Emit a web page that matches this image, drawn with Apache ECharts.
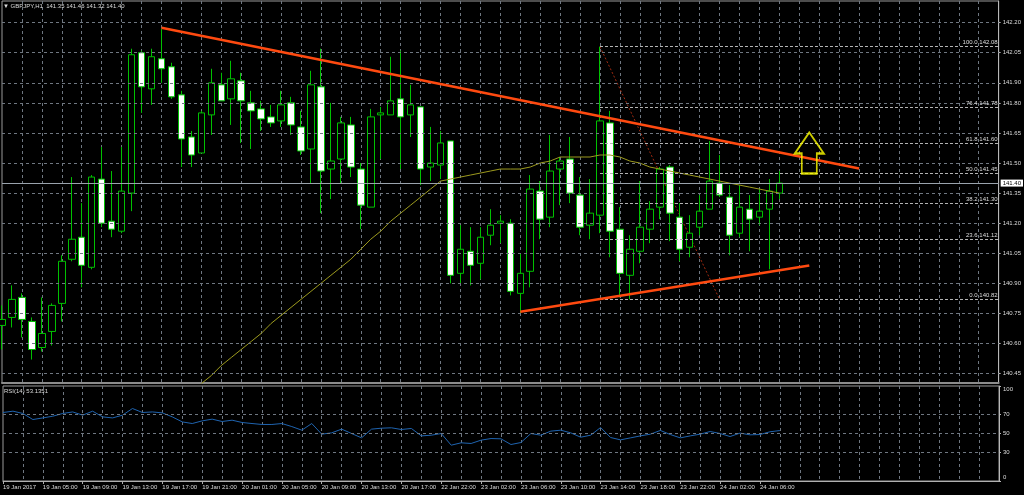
<!DOCTYPE html>
<html>
<head>
<meta charset="utf-8">
<script src="https://cdn.jsdelivr.net/npm/echarts@6/dist/echarts.min.js"></script>
<style>
html,body{margin:0;padding:0;background:#000;}
#c{width:1024px;height:495px;}
</style>
</head>
<body>
<div id="c"></div>
<script>
// ---------- DATA ----------
const symbolName = 'GBPJPY,H1';
const tickLabels = ['19 Jan 2017','19 Jan 05:00','19 Jan 09:00','19 Jan 13:00','19 Jan 17:00','19 Jan 21:00','20 Jan 01:00','20 Jan 05:00','20 Jan 09:00','20 Jan 13:00','20 Jan 17:00','22 Jan 22:00','23 Jan 02:00','23 Jan 06:00','23 Jan 10:00','23 Jan 14:00','23 Jan 18:00','23 Jan 22:00','24 Jan 02:00','24 Jan 06:00'];
const opens  = [140.69,140.73,140.83,140.71,140.58,140.66,140.80,141.02,141.13,140.98,141.42,141.21,141.16,141.35,142.05,141.87,142.02,141.98,141.84,141.63,141.55,141.74,141.89,141.82,141.91,141.80,141.77,141.73,141.71,141.80,141.68,141.57,141.88,141.47,141.52,141.69,141.47,141.28,141.74,141.74,141.82,141.74,141.78,141.48,141.49,141.61,140.95,141.06,141.00,141.14,141.20,141.20,140.85,140.96,141.36,141.23,141.47,141.52,141.34,141.19,141.24,141.70,141.17,140.94,141.06,141.17,141.28,141.48,141.23,141.08,141.18,141.27,141.40,141.33,141.15,141.27,141.23,141.27,141.35];
const highs  = [140.79,140.89,140.85,140.73,140.83,140.80,141.04,141.43,141.30,141.44,141.58,141.46,141.58,142.07,142.06,142.07,142.17,142.00,141.86,141.66,141.76,141.97,141.95,142.01,141.95,141.86,141.81,141.79,141.86,141.83,141.76,141.96,142.07,141.80,141.73,141.73,141.50,141.77,141.78,142.03,142.06,141.89,141.78,141.68,141.66,141.61,141.19,141.18,141.18,141.27,141.24,141.22,141.05,141.44,141.41,141.64,141.53,141.63,141.43,141.42,142.08,141.76,141.28,141.14,141.41,141.31,141.48,141.49,141.30,141.24,141.34,141.61,141.54,141.39,141.39,141.34,141.37,141.42,141.46];
const lows   = [140.57,140.68,140.63,140.52,140.56,140.59,140.71,141.01,140.88,140.97,141.18,141.13,141.15,141.26,141.75,141.79,141.90,141.82,141.48,141.48,141.55,141.64,141.81,141.69,141.60,141.57,141.66,141.68,141.68,141.64,141.54,141.40,141.25,141.32,141.40,141.43,141.17,141.28,141.52,141.74,141.47,141.63,141.39,141.41,141.42,140.90,140.90,140.89,140.92,141.09,141.10,140.84,140.75,140.88,141.12,141.18,141.29,141.30,141.14,141.12,141.15,141.03,140.83,140.82,141.00,141.10,141.22,141.11,141.01,141.03,141.14,141.27,141.33,141.04,141.13,141.06,141.19,140.97,141.32];
const closes = [140.72,140.82,140.72,140.57,140.65,140.79,141.01,141.12,140.99,141.43,141.20,141.17,141.36,142.04,141.88,142.03,141.97,141.83,141.62,141.54,141.75,141.90,141.81,141.92,141.81,141.76,141.72,141.70,141.79,141.69,141.56,141.89,141.46,141.51,141.70,141.48,141.29,141.73,141.75,141.81,141.73,141.79,141.47,141.50,141.60,140.94,141.07,140.99,141.13,141.19,141.21,140.86,140.95,141.37,141.22,141.46,141.51,141.35,141.18,141.25,141.71,141.16,140.95,141.07,141.18,141.27,141.47,141.25,141.07,141.15,141.26,141.41,141.34,141.14,141.28,141.22,141.26,141.36,141.40];
const maValues = [null,null,null,null,null,null,null,null,null,null,null,null,null,null,null,null,null,null,null,140.36,140.40,140.44,140.49,140.53,140.57,140.61,140.65,140.70,140.74,140.78,140.82,140.86,140.90,140.94,140.98,141.02,141.07,141.12,141.16,141.21,141.25,141.29,141.33,141.37,141.41,141.42,141.43,141.44,141.45,141.46,141.47,141.47,141.47,141.48,141.50,141.51,141.53,141.53,141.53,141.53,141.54,141.54,141.53,141.51,141.50,141.48,141.47,141.46,141.45,141.44,141.43,141.42,141.41,141.40,141.39,141.38,141.37,141.36,141.35];
const rsiValues = [72.1,73.5,71.1,64.7,66.4,68.2,71.1,72.7,69.3,73.5,67.5,66.4,69.3,76.3,72.1,72.7,71.7,67.5,62.2,60.5,63.3,65.1,62.6,64.0,61.6,60.5,59.5,59.5,60.5,57.3,53.5,60.5,49.3,50.7,54.6,50.0,45.4,54.6,55.6,56.0,54.2,55.3,47.5,48.2,50.0,37.7,40.2,39.5,43.0,44.7,44.4,38.4,40.5,50.0,48.2,52.5,53.5,50.7,46.1,48.2,56.3,45.8,43.3,45.4,47.5,49.3,53.2,48.9,45.4,47.5,49.3,52.1,50.0,46.8,50.4,48.6,48.9,51.8,53.1];
const rsiLast = '53.1351';
const priceTicks = [140.45,140.60,140.75,140.90,141.05,141.20,141.35,141.50,141.65,141.80,141.90,142.05,142.20];
const rsiTicks = [0,30,50,70,100];
const rsiLevels = [30,50,70];
const fibLevels = ['100.0','76.4','61.8','50.0','38.2','23.6','0.0'];
const fibPrices = [142.08,141.78,141.60,141.45,141.30,141.12,140.82];
const fibStart = [60, 142.08];
const fibEnd = [72, 140.82];
const upperTrend = [[16,142.175],[86,141.473]];
const lowerTrend = [[52,140.758],[81,140.989]];
const arrowPoint = [[81,141.55]];
const currentPrice = 141.40;
const slotCount = 101;

// ---------- BUILD ----------
const xCats = Array.from({length: slotCount}, (_, i) => String(i));
const candleData = opens.map((o, i) => [o, closes[i], lows[i], highs[i]]);
const labelByIndex = {};
tickLabels.forEach((t, k) => { labelByIndex[k * 4] = t; });

const gridCol = '#6f7781';
const txtCol = '#dcdcdc';
const fontFam = 'Liberation Sans, Arial, sans-serif';
const fs = 6;

const chart = echarts.init(document.getElementById('c'), null, {renderer: 'canvas'});
const xBase = {
  type: 'category', data: xCats, boundaryGap: false,
  splitLine: {show: true, interval: (i) => i % 2 === 0 && i > 0, lineStyle: {color: gridCol, type: [3, 3], width: 1}}
};
const opt = {
  backgroundColor: '#000',
  animation: false,
  title: [
    {text: '\u25BC ' + symbolName + '  ' + opens[78].toFixed(2) + ' ' + highs[78].toFixed(2) + ' ' + lows[78].toFixed(2) + ' ' + closes[78].toFixed(2),
     left: 3, top: 3, padding: 0, textStyle: {color: txtCol, fontSize: fs, fontWeight: 'normal', fontFamily: fontFam}},
    {text: 'RSI(14) ' + rsiLast, left: 4, top: 388, padding: 0, textStyle: {color: txtCol, fontSize: fs, fontWeight: 'normal', fontFamily: fontFam}}
  ],
  grid: [
    {left: 2, right: 25, top: 1, height: 382, show: true, borderColor: '#9a9a9a', borderWidth: 1, backgroundColor: 'transparent'},
    {left: 2, right: 25, top: 386, height: 95, show: true, borderColor: '#9a9a9a', borderWidth: 1, backgroundColor: 'transparent'}
  ],
  xAxis: [
    Object.assign({}, xBase, {gridIndex: 0, axisLine: {show: true, lineStyle: {color: '#8c8c8c', width: 2}}, axisTick: {show: false}, axisLabel: {show: false}}),
    Object.assign({}, xBase, {gridIndex: 1,
      axisLine: {show: true, lineStyle: {color: '#b0b0b0', width: 1}},
      axisTick: {show: true, interval: (i) => labelByIndex[i] !== undefined, length: 3, lineStyle: {color: '#b0b0b0'}},
      axisLabel: {show: true, interval: (i) => labelByIndex[i] !== undefined, formatter: (v, i) => labelByIndex[i] || '',
        align: 'left', margin: 3, color: txtCol, fontSize: fs, fontFamily: fontFam}})
  ],
  yAxis: [
    {type: 'value', gridIndex: 0, position: 'right', min: 140.403, max: 142.308, scale: true,
     axisLine: {show: true, lineStyle: {color: '#b8b8b8'}},
     axisTick: {show: true, length: 2, customValues: priceTicks, lineStyle: {color: '#b8b8b8'}},
     axisLabel: {show: true, customValues: priceTicks, formatter: (v) => v.toFixed(2), margin: 4, color: txtCol, fontSize: fs, fontFamily: fontFam},
     splitLine: {show: false}},
    {type: 'value', gridIndex: 1, position: 'right', min: 0, max: 100,
     axisLine: {show: true, lineStyle: {color: '#b8b8b8'}},
     axisTick: {show: true, length: 2, customValues: rsiTicks, lineStyle: {color: '#b8b8b8'}},
     axisLabel: {show: true, showMinLabel: true, showMaxLabel: true, customValues: rsiTicks, margin: 4, color: txtCol, fontSize: fs, fontFamily: fontFam,
       formatter: (v) => v === 100 ? '{t|100}' : (v === 0 ? '{b|0}' : String(v)),
       rich: {t: {padding: [6, 0, 0, 0], color: txtCol, fontSize: fs, fontFamily: fontFam}, b: {padding: [0, 0, 7, 0], color: txtCol, fontSize: fs, fontFamily: fontFam}}},
     splitLine: {show: false}}
  ],
  series: [
    {name: 'grid', type: 'line', xAxisIndex: 0, yAxisIndex: 0, data: [], z: 1, silent: true,
     markLine: {silent: true, symbol: 'none', animation: false, label: {show: false},
       lineStyle: {color: gridCol, type: [3, 3], width: 1},
       data: priceTicks.map(v => ({yAxis: v}))}},
    {name: 'rsiLevels', type: 'line', xAxisIndex: 1, yAxisIndex: 1, data: [], z: 1, silent: true,
     markLine: {silent: true, symbol: 'none', animation: false, label: {show: false},
       lineStyle: {color: gridCol, type: [3, 3], width: 1},
       data: rsiLevels.map(v => ({yAxis: v}))}},
    {name: 'fib', type: 'line', xAxisIndex: 0, yAxisIndex: 0, data: [], z: 2, silent: true,
     markLine: {silent: true, symbol: 'none', animation: false,
       lineStyle: {color: '#b4b4b4', type: [3, 2], width: 1},
       label: {show: true, position: 'insideEndTop', distance: [1, 1], color: txtCol, fontSize: fs, fontFamily: fontFam},
       data: fibPrices.map((p, k) => [{coord: [fibStart[0], p], label: {formatter: fibLevels[k] + ' ' + p.toFixed(2)}}, {coord: [slotCount - 1, p]}])}},
    {name: 'fibDiag', type: 'line', xAxisIndex: 0, yAxisIndex: 0, data: [fibStart, fibEnd], symbol: 'none', z: 2, silent: true,
     lineStyle: {color: '#a02a10', type: [2, 2], width: 1}},
    {name: 'price', type: 'line', xAxisIndex: 0, yAxisIndex: 0, data: [], z: 2, silent: true,
     markLine: {silent: true, symbol: 'none', animation: false,
       lineStyle: {color: '#9aa3ad', type: 'solid', width: 1},
       label: {show: true, position: 'end', distance: 2, formatter: currentPrice.toFixed(2), backgroundColor: '#fff', color: '#000', padding: [1, 2, 0, 2], fontSize: fs, fontFamily: fontFam},
       data: [{yAxis: currentPrice}]}},
    {name: 'GBPJPY', type: 'candlestick', xAxisIndex: 0, yAxisIndex: 0, data: candleData, barWidth: 7, z: 3, clip: false,
     itemStyle: {color: '#000', color0: '#fff', borderColor: '#00c000', borderColor0: '#00c000', borderWidth: 1}},
    {name: 'MA', type: 'line', xAxisIndex: 0, yAxisIndex: 0, data: maValues, symbol: 'none', z: 4, clip: true,
     lineStyle: {color: '#9c9a1e', width: 1}},
    {name: 'upper', type: 'line', xAxisIndex: 0, yAxisIndex: 0, data: upperTrend, symbol: 'none', z: 5,
     lineStyle: {color: '#ff4a10', width: 2.5}},
    {name: 'lower', type: 'line', xAxisIndex: 0, yAxisIndex: 0, data: lowerTrend, symbol: 'none', z: 5,
     lineStyle: {color: '#ff4a10', width: 2.5}},
    {name: 'arrow', type: 'scatter', xAxisIndex: 0, yAxisIndex: 0, data: arrowPoint, z: 6,
     symbol: 'path://M14.5,0 L29,21 L22,21 L22,41 L7,41 L7,21 L0,21 Z', symbolSize: [29, 41],
     itemStyle: {color: 'rgba(0,0,0,0)', borderColor: '#ffff00', borderWidth: 2}},
    {name: 'RSI', type: 'line', xAxisIndex: 1, yAxisIndex: 1, data: rsiValues, symbol: 'none', z: 4,
     lineStyle: {color: '#1f64b0', width: 1}}
  ]
};
chart.setOption(opt);
</script>
</body>
</html>
